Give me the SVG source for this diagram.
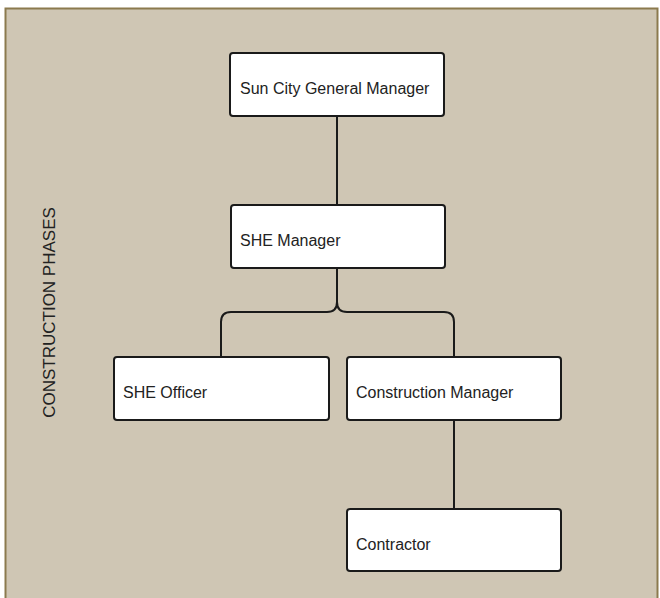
<svg xmlns="http://www.w3.org/2000/svg" width="660" height="598" viewBox="0 0 660 598">
  <style>
    .box { fill: #ffffff; stroke: #1a1a1a; stroke-width: 2; }
    .lbl { font-family: "Liberation Sans", Arial, sans-serif; font-size: 16px; fill: #222222; }
    .wire { fill: none; stroke: #1a1a1a; stroke-width: 2; }
  </style>
  <!-- swimlane background -->
  <rect x="0" y="0" width="660" height="598" fill="#ffffff"/>
  <rect x="5.5" y="8.5" width="652" height="600" fill="#cfc6b4" stroke="#8b7a4e" stroke-width="2"/>
  <text class="lbl" text-anchor="middle" style="font-size:17px" transform="translate(55,312.5) rotate(-90)">CONSTRUCTION PHASES</text>

  <g id="connectors">
    <path class="wire" d="M337 116 V205"/>
    <path class="wire" d="M337 268 V302 Q337 312 327 312 H231 Q221 312 221 322 V357"/>
    <path class="wire" d="M337 302 Q337 312 347 312 H444 Q454 312 454 322 V357"/>
    <path class="wire" d="M454 420 V509"/>
  </g>

  <g id="sun-city-gm">
    <rect class="box" x="230" y="53" width="214" height="63" rx="3"/>
    <text class="lbl" x="240" y="94">Sun City General Manager</text>
  </g>
  <g id="she-manager">
    <rect class="box" x="231" y="205" width="214" height="63" rx="3"/>
    <text class="lbl" x="240" y="246">SHE Manager</text>
  </g>
  <g id="she-officer">
    <rect class="box" x="114" y="357" width="215" height="63" rx="3"/>
    <text class="lbl" x="123" y="398">SHE Officer</text>
  </g>
  <g id="construction-manager">
    <rect class="box" x="347" y="357" width="214" height="63" rx="3"/>
    <text class="lbl" x="356" y="398">Construction Manager</text>
  </g>
  <g id="contractor">
    <rect class="box" x="347" y="509" width="214" height="62" rx="3"/>
    <text class="lbl" x="356" y="550">Contractor</text>
  </g>
</svg>
